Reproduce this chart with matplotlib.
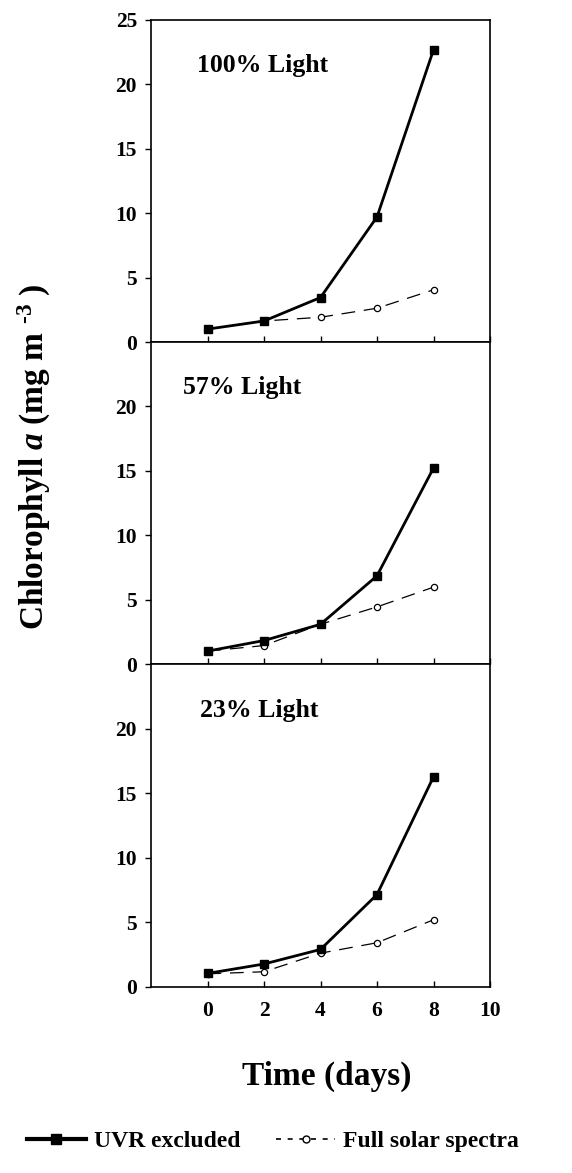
import matplotlib
matplotlib.use('Agg')
import matplotlib.pyplot as plt
from matplotlib.lines import Line2D

plt.rcParams['font.family'] = ['Liberation Serif', 'DejaVu Serif']
plt.rcParams['font.weight'] = 'bold'
plt.rcParams['mathtext.fontset'] = 'custom'
plt.rcParams['mathtext.rm'] = 'Liberation Serif:bold'
plt.rcParams['mathtext.it'] = 'Liberation Serif:bold:italic'
plt.rcParams['mathtext.bf'] = 'Liberation Serif:bold'

# data
days = [0, 2, 4, 6, 8]
panel_titles = ['100% Light', '57% Light', '23% Light']
uvr_excluded = [
    [1.0, 1.63, 3.45, 9.7, 22.66],
    [1.0, 1.82, 3.08, 6.84, 15.2],
    [1.03, 1.76, 2.89, 7.15, 16.28],
]
full_solar = [
    [1.0, 1.63, 1.92, 2.62, 4.05],
    [1.0, 1.43, 3.08, 4.43, 5.96],
    [1.0, 1.16, 2.6, 3.41, 5.19],
]
title_x = [-0.37, -0.88, -0.27]
xticks = [0, 2, 4, 6, 8, 10]

fig = plt.figure(figsize=(5.72, 11.73), dpi=100)
left, width = 151 / 572, 339 / 572
h = 322.3 / 1173
bottoms = [1 - 342 / 1173, 1 - 664 / 1173, 1 - 986.7 / 1173]

for i in range(3):
    ax = fig.add_axes([left, bottoms[i], width, h])
    ax.plot(days, uvr_excluded[i], color='black', lw=2.0, marker='s',
            markersize=5.5, zorder=3)
    ax.plot(days, full_solar[i], color='black', lw=0.9, linestyle=(0, (11, 7)),
            marker='o', markersize=4.5, markerfacecolor='white',
            markeredgewidth=0.9, zorder=2)
    ax.set_xlim(-2, 10)
    ax.set_ylim(0, 25)
    ax.set_xticks(xticks)
    if i == 0:
        ax.set_yticks([0, 5, 10, 15, 20, 25])
    else:
        ax.set_yticks([0, 5, 10, 15, 20])
    ax.tick_params(axis='x', direction='in', length=4, width=1, pad=10,
                   labelsize=15.5)
    ax.tick_params(axis='y', direction='out', length=4, width=1, pad=6,
                   labelsize=15.5)
    if i < 2:
        ax.tick_params(axis='x', labelbottom=False)
    for s in ax.spines.values():
        s.set_linewidth(1.2)
    ax.text(title_x[i], 20.95, panel_titles[i], fontsize=18.5,
            fontweight='bold', va='baseline', ha='left')

fig.text(34 / 572, 1 - 457 / 1173, r'Chlorophyll $\mathit{a}$ (mg m $^{\text{-3}}$ )',
         rotation=90, ha='center', va='center', fontsize=24, fontweight='bold')
fig.text(327 / 572, 1 - 1076 / 1173, 'Time (days)', ha='center', va='center',
         fontsize=24, fontweight='bold')

h1 = Line2D([], [], color='black', lw=3, marker='s', markersize=7)
h2 = Line2D([], [], color='black', lw=1.2, linestyle=(0, (3, 4)), marker='o',
            markersize=5, markerfacecolor='white')
fig.legend([h1, h2], ['UVR excluded', 'Full solar spectra'], ncol=2,
           loc='center', bbox_to_anchor=(273 / 572, 1 - 1141 / 1173), frameon=False,
           fontsize=17, handlelength=2.5, handletextpad=0.35, columnspacing=1.5)

fig.savefig('out.png', dpi=100)
